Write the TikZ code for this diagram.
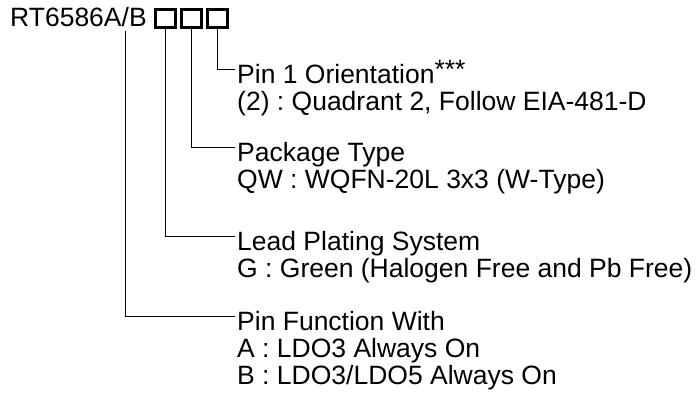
\documentclass[tikz,border=0pt]{standalone}
\usepackage{fontspec}
\setmainfont{Liberation Sans}
\frenchspacing
\begin{document}
\begin{tikzpicture}[x=1pt,y=-1pt,
  lbl/.style={anchor=base west,inner sep=0pt,font=\fontsize{26.5}{27}\selectfont},
  pbox/.style={draw,line width=2.6pt,minimum width=20pt,minimum height=17.5pt,inner sep=0pt},
  lead/.style={line width=1pt}]
\useasboundingbox (0,0) rectangle (698,398);
\node[lbl] (title) at (10,27) {RT6586A/B};
\node[pbox] (b1) at (165.3,18.5) {};
\node[pbox] (b2) at (191.3,18.5) {};
\node[pbox] (b3) at (217.5,18.5) {};
\coordinate (t1) at (125,31);
% group 1
\node[lbl] (g1a) at (237,84) {Pin 1 Orientation\raisebox{5pt}{***}};
\node[lbl] (g1b) at (237,111) {(2) : Quadrant 2, Follow EIA-481-D};
% group 2
\node[lbl] (g2a) at (237,162) {Package Type};
\node[lbl] (g2b) at (237,189) {QW : WQFN-20L 3x3 (W-Type)};
% group 3
\node[lbl] (g3a) at (237,250) {Lead Plating System};
\node[lbl] (g3b) at (237,277) {G : Green (Halogen Free and Pb Free)};
% group 4
\node[lbl] (g4a) at (237,330) {Pin Function With};
\node[lbl] (g4b) at (237,357) {A : LDO3 Always On};
\node[lbl] (g4c) at (237,384) {B : LDO3/LDO5 Always On};
% connectors
\draw[lead] (b3.south) |- ([yshift=14pt,xshift=-2pt]g1a.base west);
\draw[lead] (b2.south) |- ([yshift=14pt,xshift=-2pt]g2a.base west);
\draw[lead] (b1.south) |- ([yshift=14pt,xshift=-2pt]g3a.base west);
\draw[lead] (t1) |- ([yshift=14pt,xshift=-2pt]g4a.base west);
\end{tikzpicture}
\end{document}
